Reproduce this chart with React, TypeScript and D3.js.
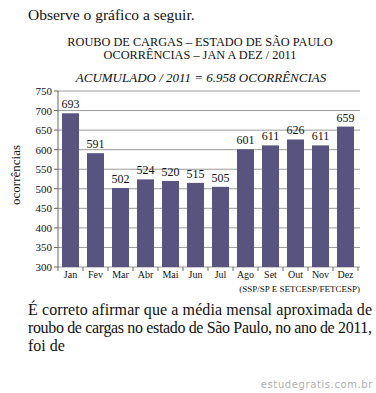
import React from "react";
import * as d3 from "d3";

const months = ["Jan", "Fev", "Mar", "Abr", "Mai", "Jun", "Jul", "Ago", "Set", "Out", "Nov", "Dez"];
const values = [693, 591, 502, 524, 520, 515, 505, 601, 611, 626, 611, 659];
const yTicks = [300, 350, 400, 450, 500, 550, 600, 650, 700, 750];

const W = 376;
const H = 393;
const serif = "'Liberation Serif', 'Times New Roman', serif";

export default function App() {
  const x = d3.scaleBand<string>().domain(months).range([58, 358]).paddingInner(0.32).paddingOuter(0.16);
  const y = d3.scaleLinear().domain([300, 750]).range([267, 91]);
  const bw = x.bandwidth();
  const step = x.step();

  return (
    <svg width={W} height={H} style={{ position: "absolute", left: 0, top: 0, background: "#fff" }}>
      <text x={28} y={20} fontFamily={serif} fontSize={15.5} fill="#111">Observe o gráfico a seguir.</text>
      <text x={200} y={46} textAnchor="middle" fontFamily={serif} fontSize={12.3} fill="#111">ROUBO DE CARGAS – ESTADO DE SÃO PAULO</text>
      <text x={200} y={59} textAnchor="middle" fontFamily={serif} fontSize={12.3} fill="#111">OCORRÊNCIAS – JAN A DEZ / 2011</text>
      <text x={201} y={82} textAnchor="middle" fontFamily={serif} fontSize={13} fontStyle="italic" fill="#111">ACUMULADO / 2011 = 6.958 OCORRÊNCIAS</text>

      {yTicks.map((t) => (
        <g key={t}>
          <line x1={58} x2={360} y1={y(t)} y2={y(t)} stroke="#9a9a9a" strokeWidth={1} />
          <line x1={54} x2={58} y1={y(t)} y2={y(t)} stroke="#666" strokeWidth={1} />
          <text x={52} y={y(t) + 4} textAnchor="end" fontFamily={serif} fontSize={11} fill="#111">{t}</text>
        </g>
      ))}
      <line x1={58} x2={58} y1={91} y2={267} stroke="#666" strokeWidth={1} />

      {months.map((m, i) => (
        <g key={m}>
          <rect x={x(m)} y={y(values[i])} width={bw} height={267 - y(values[i])} fill="#58537f" />
          <text x={(x(m) as number) + bw / 2} y={y(values[i]) - 5} textAnchor="middle" fontFamily={serif} fontSize={12} fill="#111">{values[i]}</text>
          <text x={(x(m) as number) + bw / 2} y={278} textAnchor="middle" fontFamily={serif} fontSize={10} fill="#111">{m}</text>
          <line x1={58 + step * i} x2={58 + step * i} y1={267} y2={271} stroke="#666" />
        </g>
      ))}
      <line x1={358} x2={358} y1={267} y2={271} stroke="#666" />

      <text x={20} y={175} transform="rotate(-90 20 175)" textAnchor="middle" fontFamily={serif} fontSize={13} fill="#111">ocorrências</text>
      <text x={360} y={292} textAnchor="end" fontFamily={serif} fontSize={9} fill="#111">(SSP/SP E SETCESP/FETCESP)</text>

      <text x={28} y={315} fontFamily={serif} fontSize={16} fill="#111" textLength={344} lengthAdjust="spacing">É correto afirmar que a média mensal aproximada de</text>
      <text x={28} y={333} fontFamily={serif} fontSize={16} fill="#111" textLength={344} lengthAdjust="spacing">roubo de cargas no estado de São Paulo, no ano de 2011,</text>
      <text x={28} y={351} fontFamily={serif} fontSize={16} fill="#111">foi de</text>

      <text x={373} y={388} textAnchor="end" fontFamily="'DejaVu Sans', sans-serif" fontSize={10} fill="#b0b0b0" letterSpacing={0.6}>estudegratis.com.br</text>
    </svg>
  );
}
